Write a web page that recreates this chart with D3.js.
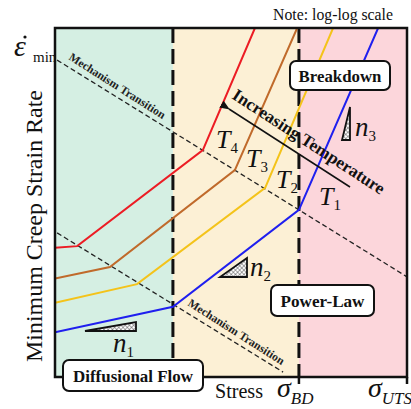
<!DOCTYPE html>
<html>
<head>
<meta charset="utf-8">
<script src="https://cdn.jsdelivr.net/npm/d3@7"></script>
<style>
  body { margin: 0; background: #fff; }
  svg { display: block; font-family: "Liberation Serif", "Times New Roman", serif; }
</style>
</head>
<body>
<div id="chart"></div>
<script>
// creep mechanism map, schematic log-log (values are log10 units)

const regimeNames = ['Diffusional Flow', 'Power-Law', 'Breakdown'];
const regimeEdges = [0, 3.35, 6.93, 10];
const regimeColors = ['#d5efe3', '#fcf0d5', '#fcd6db'];

const tempLabels = ['T1', 'T2', 'T3', 'T4'];
const tempColors = ['#1f1fef', '#f4c31a', '#c06a2b', '#ec1c24'];
const curveT1 = [[0, 1.28], [3.35, 2.01], [6.93, 4.79], [9.18, 10]];
const curveT2 = [[0, 2.13], [2.33, 2.66], [5.97, 5.42], [7.90, 10]];
const curveT3 = [[0, 2.82], [1.56, 3.15], [5.11, 5.93], [6.88, 10]];
const curveT4 = [[0, 3.70], [0.63, 3.75], [4.20, 6.50], [5.68, 10]];
const curves = [curveT1, curveT2, curveT3, curveT4];

const upperTransition = [[0.06, 9.08], [10, 2.87]];
const lowerTransition = [[0.06, 4.13], [6.48, 0.14]];

const W = 411, H = 409;
const margin = { top: 28, right: 4, bottom: 32, left: 55 };

const svg = d3.select('#chart').append('svg')
    .attr('width', W)
    .attr('height', H);

const x = d3.scaleLinear().domain([0, 10]).range([margin.left, W - margin.right]);
const y = d3.scaleLinear().domain([0, 10]).range([H - margin.bottom, margin.top]);

// scale a text's font so it spans the width measured on the reference
function fitText(sel, target) {
    const len = sel.node().getComputedTextLength();
    if (len > 0) sel.attr('font-size', +sel.attr('font-size') * target / len);
    return sel;
}

const defs = svg.append('defs');
defs.append('clipPath').attr('id', 'plotClip')
    .append('rect')
    .attr('x', x(0)).attr('y', y(10))
    .attr('width', x(10) - x(0)).attr('height', y(0) - y(10));

const hatch = defs.append('pattern')
    .attr('id', 'hatch')
    .attr('patternUnits', 'userSpaceOnUse')
    .attr('width', 3).attr('height', 3)
    .attr('patternTransform', 'rotate(45)');
hatch.append('rect').attr('width', 3).attr('height', 3).attr('fill', '#fff');
hatch.append('path').attr('d', 'M0,0H3M0,0V3').attr('stroke', '#555').attr('stroke-width', 1);

defs.append('marker')
    .attr('id', 'arrow')
    .attr('markerWidth', 10).attr('markerHeight', 8)
    .attr('refX', 1).attr('refY', 4)
    .attr('orient', 'auto-start-reverse')
    .attr('markerUnits', 'userSpaceOnUse')
    .append('path')
    .attr('d', 'M10,0 L0,4 L10,8 Z')
    .attr('fill', '#111');

const plot = svg.append('g').attr('clip-path', 'url(#plotClip)');

// regime backgrounds
plot.selectAll('rect.regime')
    .data(regimeNames)
    .enter().append('rect')
    .attr('class', 'regime')
    .attr('x', (d, i) => x(regimeEdges[i]))
    .attr('y', y(10))
    .attr('width', (d, i) => x(regimeEdges[i + 1]) - x(regimeEdges[i]))
    .attr('height', y(0) - y(10))
    .attr('fill', (d, i) => regimeColors[i]);

// mechanism transition lines
const line = d3.line().x((d) => x(d[0])).y((d) => y(d[1]));
[upperTransition, lowerTransition].forEach((t) => {
    plot.append('path')
        .attr('d', line(t))
        .attr('fill', 'none')
        .attr('stroke', '#222')
        .attr('stroke-width', 1.3)
        .attr('stroke-dasharray', '5,3');
});

// regime boundaries
plot.selectAll('line.edge')
    .data(regimeEdges.slice(1, 3))
    .enter().append('line')
    .attr('x1', (d) => x(d)).attr('x2', (d) => x(d))
    .attr('y1', y(10)).attr('y2', y(0))
    .attr('stroke', '#111')
    .attr('stroke-width', 3)
    .attr('stroke-dasharray', '15,6');

// temperature curves
plot.selectAll('path.curve')
    .data(curves)
    .enter().append('path')
    .attr('class', 'curve')
    .attr('d', line)
    .attr('fill', 'none')
    .attr('stroke', (d, i) => tempColors[i])
    .attr('stroke-width', 2);

// frame
svg.append('path')
    .attr('d', `M${x(0)},${y(10)} V${y(0)} H${x(10)} V${y(10)} Z`)
    .attr('fill', 'none')
    .attr('stroke', '#111')
    .attr('stroke-width', 2.5);
[regimeEdges[2], 10].forEach((v) => {
    svg.append('line')
        .attr('x1', x(v)).attr('x2', x(v))
        .attr('y1', y(0)).attr('y2', y(0) + 7)
        .attr('stroke', '#111').attr('stroke-width', 2.5);
});

// mechanism transition labels
function slopeText(txt, px, py, ang) {
    const t = svg.append('text')
        .attr('transform', `translate(${px},${py}) rotate(${ang})`)
        .attr('font-size', 11)
        .attr('font-weight', 'bold')
        .attr('fill', '#222')
        .text(txt);
    fitText(t, 112);
}
slopeText('Mechanism Transition', 68, 59, 32.5);
slopeText('Mechanism Transition', 187, 305, 32.5);

// increasing temperature arrow
svg.append('line')
    .attr('x1', 350).attr('y1', 187)
    .attr('x2', 229).attr('y2', 109)
    .attr('stroke', '#111')
    .attr('stroke-width', 1.5)
    .attr('marker-end', 'url(#arrow)');
fitText(svg.append('text')
    .attr('transform', 'translate(231,98) rotate(33)')
    .attr('font-size', 17)
    .attr('font-weight', 'bold')
    .attr('fill', '#111')
    .text('Increasing Temperature'), 178);

// temperature labels
const tempPos = [[319, 205], [276, 188], [246, 167], [216, 148]];
tempLabels.forEach((t, i) => {
    const tx = svg.append('text')
        .attr('x', tempPos[i][0]).attr('y', tempPos[i][1])
        .attr('font-size', 26)
        .attr('fill', '#111');
    tx.append('tspan').attr('font-style', 'italic').text('T');
    tx.append('tspan').attr('font-size', 15).attr('dy', 5).text(t.slice(1));
});

// slope triangles
const triangles = [
    { pts: [[85, 331], [136, 331], [136, 322]], label: '1', lx: 113, ly: 352 },
    { pts: [[220, 277], [247, 277], [247, 258]], label: '2', lx: 250, ly: 276 },
    { pts: [[342, 140], [350, 140], [350, 107]], label: '3', lx: 355, ly: 136 }
];
triangles.forEach((tr) => {
    svg.append('path')
        .attr('d', 'M' + tr.pts.join('L') + 'Z')
        .attr('fill', 'url(#hatch)')
        .attr('stroke', '#111')
        .attr('stroke-width', 1.8)
        .attr('stroke-linejoin', 'miter');
    const tx = svg.append('text')
        .attr('x', tr.lx).attr('y', tr.ly)
        .attr('font-size', 27)
        .attr('font-style', 'italic')
        .attr('fill', '#111');
    tx.append('tspan').text('n');
    tx.append('tspan').attr('font-size', 15).attr('font-style', 'normal').attr('dy', 5).text(tr.label);
});

// regime label boxes
const boxes = [
    { name: regimeNames[0], x0: 63, y0: 360, x1: 203, y1: 391, w: 120 },
    { name: regimeNames[1], x0: 271, y0: 285, x1: 374, y1: 316, w: 84 },
    { name: regimeNames[2], x0: 290, y0: 61, x1: 390, y1: 90, w: 83 }
];
boxes.forEach((b) => {
    svg.append('rect')
        .attr('x', b.x0).attr('y', b.y0)
        .attr('width', b.x1 - b.x0).attr('height', b.y1 - b.y0)
        .attr('rx', 6)
        .attr('fill', '#fff')
        .attr('stroke', '#111')
        .attr('stroke-width', 2);
    fitText(svg.append('text')
        .attr('x', (b.x0 + b.x1) / 2).attr('y', (b.y0 + b.y1) / 2 + 6)
        .attr('text-anchor', 'middle')
        .attr('font-size', 17)
        .attr('font-weight', 'bold')
        .attr('fill', '#111')
        .text(b.name), b.w);
});

// note
fitText(svg.append('text')
    .attr('x', 393).attr('y', 20)
    .attr('text-anchor', 'end')
    .attr('font-size', 16)
    .attr('fill', '#111')
    .text('Note: log-log scale'), 120);

// y axis label
fitText(svg.append('text')
    .attr('transform', 'translate(42,226) rotate(-90)')
    .attr('text-anchor', 'middle')
    .attr('font-size', 24)
    .attr('fill', '#111')
    .text('Minimum Creep Strain Rate'), 272);

// strain-rate symbol, dot drawn separately so it sits over the epsilon
svg.append('text')
    .attr('x', 14).attr('y', 56)
    .attr('font-size', 30)
    .attr('font-style', 'italic')
    .attr('fill', '#111')
    .text('\u03B5');
svg.append('circle').attr('cx', 25).attr('cy', 37).attr('r', 1.6).attr('fill', '#111');
svg.append('text')
    .attr('x', 33).attr('y', 62)
    .attr('font-size', 15)
    .attr('fill', '#111')
    .text('min');

// x axis labels
fitText(svg.append('text')
    .attr('x', 215).attr('y', 398)
    .attr('font-size', 21)
    .attr('fill', '#111')
    .text('Stress'), 48);
function sigma(px, sub) {
    const s = svg.append('text').attr('x', px).attr('y', 397).attr('fill', '#111')
        .attr('font-style', 'italic');
    s.append('tspan').attr('font-size', 28).text('\u03C3');
    s.append('tspan').attr('font-size', 17).attr('dy', 7).text(sub);
}
sigma(277, 'BD');
sigma(368, 'UTS');
</script>
</body>
</html>
